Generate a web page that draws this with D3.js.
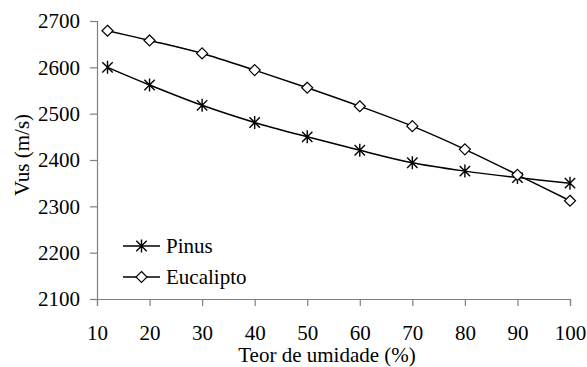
<!DOCTYPE html>
<html>
<head>
<meta charset="utf-8">
<script src="https://cdn.jsdelivr.net/npm/d3@7"></script>
<style>
  body { margin: 0; background: #fff; }
</style>
</head>
<body>
<div id="chart"></div>
<script>
// moisture content (%)
const umidade = [12, 20, 30, 40, 50, 60, 70, 80, 90, 100];
// ultrasound velocity (m/s)
const pinus = [2600, 2562, 2518, 2481, 2450, 2421, 2394, 2376, 2362, 2350];
const eucalipto = [2679, 2658, 2630, 2594, 2556, 2516, 2473, 2423, 2368, 2312];

const xTicks = [10, 20, 30, 40, 50, 60, 70, 80, 90, 100];
const yTicks = [2100, 2200, 2300, 2400, 2500, 2600, 2700];

const W = 587, H = 367;
const margin = {left: 97, right: 17, top: 21, bottom: 68};
const fs = 21;
const serif = '"Liberation Serif", "Times New Roman", serif';

const svg = d3.select('#chart').append('svg')
    .attr('width', W)
    .attr('height', H)
    .attr('font-family', serif);

const x = d3.scaleLinear().domain([10, 100]).range([margin.left, W - margin.right]);
const y = d3.scaleLinear().domain([2100, 2700]).range([H - margin.bottom, margin.top]);

// axes
const xAxis = svg.append('g')
    .attr('transform', `translate(0,${H - margin.bottom})`)
    .call(d3.axisBottom(x).tickValues(xTicks).tickFormat(d3.format('d')).tickSize(7).tickPadding(19));
const yAxis = svg.append('g')
    .attr('transform', `translate(${margin.left},0)`)
    .call(d3.axisLeft(y).tickValues(yTicks).tickFormat(d3.format('d')).tickSize(7).tickPadding(10));

[xAxis, yAxis].forEach(a => {
  a.attr('font-family', serif).attr('font-size', fs);
  a.select('.domain').attr('stroke', '#808080').attr('stroke-width', 1.2);
  a.selectAll('.tick line').attr('stroke', '#808080').attr('stroke-width', 1.2);
  a.selectAll('.tick text').attr('fill', '#000').attr('font-family', serif);
});

// axis titles
svg.append('text')
    .attr('x', 327)
    .attr('y', 362)
    .attr('text-anchor', 'middle')
    .attr('font-family', serif)
    .attr('font-size', fs)
    .text('Teor de umidade (%)');

svg.append('text')
    .attr('transform', 'translate(29,155) rotate(-90)')
    .attr('text-anchor', 'middle')
    .attr('font-family', serif)
    .attr('font-size', fs)
    .text('Vus (m/s)');

const line = d3.line()
    .x(d => x(d[0]))
    .y(d => y(d[1]))
    .curve(d3.curveCardinal.tension(0));

// asterisk marker: vertical stroke plus an X
function star(g, cx, cy) {
  const r = 6.5, k = r * 0.8;
  g.append('path')
    .attr('d', `M${cx},${cy - r}V${cy + r}` +
      `M${cx - k},${cy - k}L${cx + k},${cy + k}` +
      `M${cx - k},${cy + k}L${cx + k},${cy - k}`)
    .attr('stroke', '#000')
    .attr('stroke-width', 1.4)
    .attr('fill', 'none');
}

function diamond(g, cx, cy) {
  const r = 5.5;
  g.append('path')
    .attr('d', `M${cx},${cy - r}L${cx + r},${cy}L${cx},${cy + r}L${cx - r},${cy}Z`)
    .attr('stroke', '#000')
    .attr('stroke-width', 1.2)
    .attr('fill', '#fff');
}

const series = [
  {name: 'Pinus', values: pinus, marker: star},
  {name: 'Eucalipto', values: eucalipto, marker: diamond}
];

const plot = svg.append('g');
series.forEach(s => {
  const pts = umidade.map((u, i) => [u, s.values[i]]);
  plot.append('path')
    .datum(pts)
    .attr('d', line)
    .attr('fill', 'none')
    .attr('stroke', '#000')
    .attr('stroke-width', 1.5);
});
series.forEach(s => {
  const g = plot.append('g');
  umidade.forEach((u, i) => s.marker(g, x(u), y(s.values[i])));
});

// legend
const legend = svg.append('g');
series.forEach((s, i) => {
  const ly = 246 + i * 31;
  legend.append('line')
    .attr('x1', 123).attr('x2', 160)
    .attr('y1', ly).attr('y2', ly)
    .attr('stroke', '#000')
    .attr('stroke-width', 1.5);
  s.marker(legend, 141.5, ly);
  legend.append('text')
    .attr('x', 166)
    .attr('y', ly)
    .attr('dy', '0.32em')
    .attr('font-family', serif)
    .attr('font-size', fs)
    .text(s.name);
});
</script>
</body>
</html>
